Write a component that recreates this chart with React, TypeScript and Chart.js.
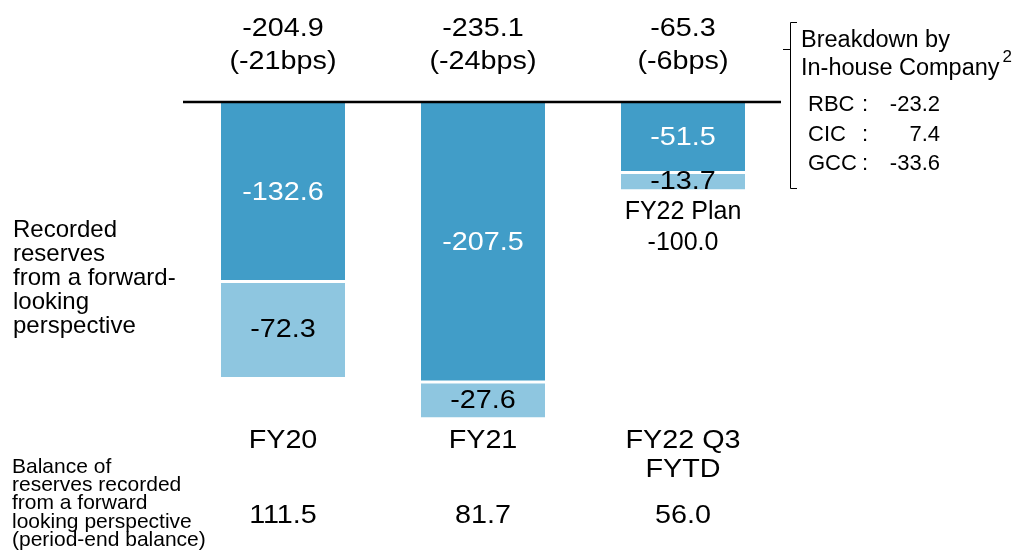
import React, { useEffect, useRef } from "react";
import { Chart, registerables } from "chart.js";

Chart.register(...registerables);

const categories = ["FY20", "FY21", "FY22 Q3"];
const categorySecondLine = ["", "", "FYTD"];
const forwardLooking = [-132.6, -207.5, -51.5];
const otherReserves = [-72.3, -27.6, -13.7];
const totalLabels = ["-204.9", "-235.1", "-65.3"];
const bpsLabels = ["(-21bps)", "(-24bps)", "(-6bps)"];
const balanceLabels = ["111.5", "81.7", "56.0"];
const planLabels = ["FY22 Plan", "-100.0"];
const breakdownNames = ["RBC", "CIC", "GCC"];
const breakdownValues = ["-23.2", "7.4", "-33.6"];
const leftLabelTop = ["Recorded", "reserves", "from a forward-", "looking", "perspective"];
const leftLabelBottom = ["Balance of", "reserves recorded", "from a forward", "looking perspective", "(period-end balance)"];

const FONT = "'Liberation Sans', Arial, sans-serif";
const DARK = "#419DC8";
const LIGHT = "#8EC6E0";
const STRETCH = 1.15;
const MAIN = 25;

function txt(ctx: any, s: string, x: number, y: number, size: number, sx = 1, align = "center", color = "#000") {
  ctx.save();
  ctx.font = `${size}px ${FONT}`;
  ctx.textAlign = align;
  ctx.textBaseline = "middle";
  ctx.fillStyle = color;
  ctx.translate(x, y);
  ctx.scale(sx, 1);
  ctx.fillText(s, 0, 0);
  ctx.restore();
}

const annotations = {
  id: "annotations",
  afterDatasetsDraw(chart: any) {
    const ctx = chart.ctx;
    const xScale = chart.scales.x;
    const yScale = chart.scales.y;
    const area = chart.chartArea;
    ctx.save();

    // baseline
    const y0 = yScale.getPixelForValue(0);
    ctx.strokeStyle = "#000";
    ctx.lineWidth = 2.5;
    ctx.beginPath();
    ctx.moveTo(area.left, y0);
    ctx.lineTo(area.right - 2, y0);
    ctx.stroke();

    // segment labels
    chart.data.datasets.forEach((ds: any, di: number) => {
      const meta = chart.getDatasetMeta(di);
      meta.data.forEach((bar: any, i: number) => {
        const cy = (bar.y + bar.base) / 2;
        txt(ctx, ds.data[i].toFixed(1), bar.x, cy + 2, MAIN, STRETCH, "center", di === 0 ? "#fff" : "#000");
      });
    });

    // totals and categories
    categories.forEach((c, i) => {
      const x = xScale.getPixelForValue(i);
      txt(ctx, totalLabels[i], x, 29, MAIN, STRETCH);
      txt(ctx, bpsLabels[i], x, 62, MAIN, STRETCH);
      txt(ctx, c, x, 441, MAIN, STRETCH);
      if (categorySecondLine[i]) txt(ctx, categorySecondLine[i], x, 470, MAIN, STRETCH);
      txt(ctx, balanceLabels[i], x, 516, MAIN, STRETCH);
    });

    // FY22 plan
    const x3 = xScale.getPixelForValue(2);
    txt(ctx, planLabels[0], x3, 212, 25);
    txt(ctx, planLabels[1], x3, 243, 25);

    // left labels
    leftLabelTop.forEach((t, i) => txt(ctx, t, 13, 230 + i * 24, 24, 1, "left"));
    leftLabelBottom.forEach((t, i) => txt(ctx, t, 12, 467 + i * 18.3, 21, 1, "left"));

    // breakdown bracket
    ctx.lineWidth = 1;
    ctx.strokeStyle = "#000";
    ctx.beginPath();
    ctx.moveTo(797, 22.5);
    ctx.lineTo(790.5, 22.5);
    ctx.lineTo(790.5, 188.5);
    ctx.lineTo(797, 188.5);
    ctx.moveTo(783, 49.5);
    ctx.lineTo(790.5, 49.5);
    ctx.stroke();

    txt(ctx, "Breakdown by", 801, 41, 23.5, 1, "left");
    txt(ctx, "In-house Company", 801, 69, 23.5, 1, "left");
    ctx.font = `23.5px ${FONT}`;
    const w = ctx.measureText("In-house Company").width;
    txt(ctx, "2", 801 + w + 3, 57, 17, 1, "left");
    breakdownNames.forEach((n, i) => {
      const y = 105 + i * 29.5;
      txt(ctx, n, 808, y, 22, 1, "left");
      txt(ctx, ":", 862, y, 22, 1, "left");
      txt(ctx, breakdownValues[i], 940, y, 22, 1, "right");
    });

    ctx.restore();
  },
};

export default function App() {
  const ref = useRef<HTMLCanvasElement | null>(null);
  useEffect(() => {
    if (!ref.current) return;
    const chart = new Chart(ref.current, {
      type: "bar",
      data: {
        labels: categories,
        datasets: [
          {
            label: "Forward-looking",
            data: forwardLooking,
            backgroundColor: DARK,
            borderWidth: 0,
            barPercentage: 0.62,
            categoryPercentage: 1,
          },
          {
            label: "Other",
            data: otherReserves,
            backgroundColor: LIGHT,
            borderColor: "#fff",
            borderWidth: { top: 3, bottom: 0, left: 0, right: 0 },
            borderSkipped: false,
            barPercentage: 0.62,
            categoryPercentage: 1,
          },
        ],
      },
      options: {
        responsive: false,
        animation: false,
        layout: { padding: { left: 183, right: 236, top: 102, bottom: 115.5 } },
        plugins: { legend: { display: false }, tooltip: { enabled: false } },
        scales: {
          x: { stacked: true, display: false },
          y: { stacked: true, display: false, min: -250, max: 0 },
        },
      },
      plugins: [annotations],
    });
    return () => chart.destroy();
  }, []);
  return (
    <div style={{ position: "fixed", left: 0, top: 0, width: 1019, height: 553, background: "#fff" }}>
      <canvas ref={ref} width={1019} height={553} />
    </div>
  );
}
